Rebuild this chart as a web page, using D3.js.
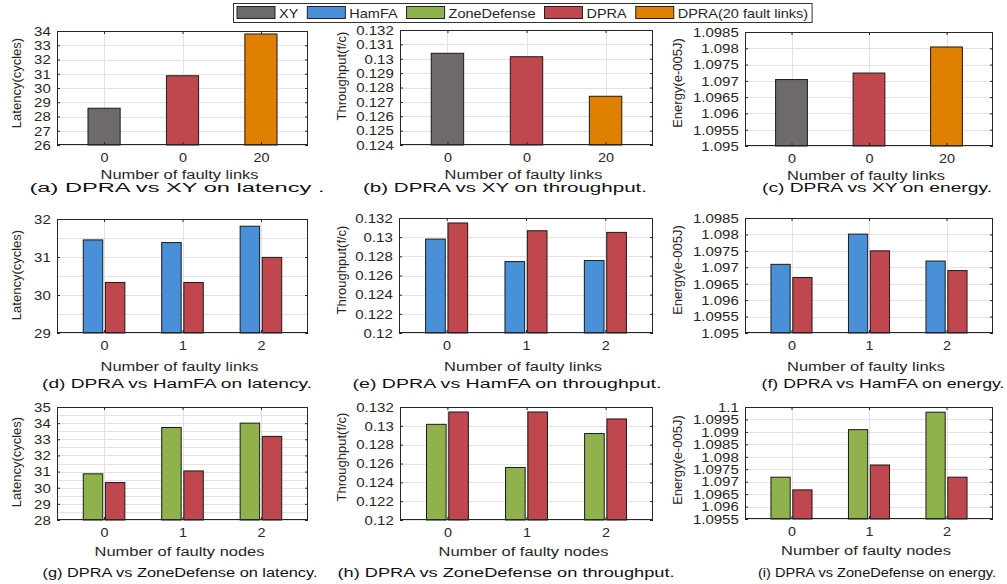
<!DOCTYPE html>
<html>
<head>
<meta charset="utf-8">
<script src="https://cdn.jsdelivr.net/npm/d3@7"></script>
<style>
body { margin: 0; background: #fff; }
text { font-family: "Liberation Sans", Arial, sans-serif; fill: #262626; }
</style>
</head>
<body>
<svg id="fig" width="1007" height="584"></svg>
<script>
// series shown in the legend
var seriesNames = ["XY", "HamFA", "ZoneDefense", "DPRA", "DPRA(20 fault links)"];

// x categories
var xyCats = ["0", "0", "20"];
var faultCats = ["0", "1", "2"];

// row 1: DPRA vs XY (one bar per category)
var xySeries = ["XY", "DPRA", "DPRA(20 fault links)"];
var latencyVsXY = [28.58, 30.86, 33.79];
var throughputVsXY = [0.13038, 0.13014, 0.12739];
var energyVsXY = [1.09704, 1.09724, 1.09804];

// row 2: DPRA vs HamFA
var hamfaLatency = [31.45, 31.38, 31.81];
var dpraLatencyH = [30.33, 30.33, 30.99];
var hamfaThroughput = [0.1298, 0.12745, 0.12756];
var dpraThroughputH = [0.13148, 0.13067, 0.1305];
var hamfaEnergy = [1.09709, 1.09801, 1.09719];
var dpraEnergyH = [1.09669, 1.0975, 1.0969];

// row 3: DPRA vs ZoneDefense
var zdLatency = [30.86, 33.73, 34.0];
var dpraLatencyZ = [30.32, 31.04, 33.18];
var zdThroughput = [0.13016, 0.12558, 0.12918];
var dpraThroughputZ = [0.13147, 0.13147, 0.13073];
var zdEnergy = [1.09718, 1.09909, 1.09979];
var dpraEnergyZ = [1.09667, 1.09767, 1.09718];

// y tick labels
var latTicksA = [26, 27, 28, 29, 30, 31, 32, 33, 34];
var thrTicksA = [0.124, 0.125, 0.126, 0.127, 0.128, 0.129, 0.13, 0.131, 0.132];
var engTicksA = [1.095, 1.0955, 1.096, 1.0965, 1.097, 1.0975, 1.098, 1.0985];
var latTicksD = [29, 30, 31, 32];
var latMinorD = [29.5, 30.5, 31.5];
var thrTicks = [0.12, 0.122, 0.124, 0.126, 0.128, 0.13, 0.132];
var latTicksG = [28, 29, 30, 31, 32, 33, 34, 35];
var latMinorG = [28.5, 29.5, 30.5, 31.5, 32.5, 33.5, 34.5];
var engTicksI = [1.0955, 1.096, 1.0965, 1.097, 1.0975, 1.098, 1.0985, 1.099, 1.0995, 1.1];

var colors = {
  "XY": "#6e6a6b",
  "HamFA": "#4a90d8",
  "ZoneDefense": "#8fb24c",
  "DPRA": "#c0474d",
  "DPRA(20 fault links)": "#e08000"
};

var svg = d3.select("#fig");

// panel layout
var panels = [
  {x0: 57, x1: 308, y0: 31, y1: 145, cats: xyCats, single: xySeries, values: [latencyVsXY],
   ticks: latTicksA, ylab: "Latency(cycles)", ylx: 16, yly: 83, xlab: "Number of faulty links", xlDy: 34,
   cap: "(a) DPRA vs XY on latency .", capX: 177, capW: 295, capDy: 47},
  {x0: 400, x1: 653, y0: 30, y1: 145, cats: xyCats, single: xySeries, values: [throughputVsXY],
   ticks: thrTicksA, ylab: "Throughput(f/c)", ylx: 341, yly: 76, xlab: "Number of faulty links", xlDy: 34,
   cap: "(b) DPRA vs XY on throughput.", capX: 505, capW: 284, capDy: 47},
  {x0: 745, x1: 993, y0: 32, y1: 146, cats: xyCats, single: xySeries, values: [energyVsXY],
   ticks: engTicksA, ylab: "Energy(e-005J)", ylx: 677, yly: 83, xlab: "Number of faulty links", xlDy: 34,
   cap: "(c) DPRA vs XY on energy.", capX: 877, capW: 230, capDy: 46},
  {x0: 57, x1: 308, y0: 219, y1: 333, cats: faultCats, series: ["HamFA", "DPRA"],
   values: [hamfaLatency, dpraLatencyH], ticks: latTicksD, minor: latMinorD,
   ylab: "Latency(cycles)", ylx: 16, yly: 275, xlab: "Number of faulty links", xlDy: 38,
   cap: "(d) DPRA vs HamFA on latency.", capX: 177, capW: 270, capDy: 55},
  {x0: 399, x1: 653, y0: 218, y1: 333, cats: faultCats, series: ["HamFA", "DPRA"],
   values: [hamfaThroughput, dpraThroughputH], ticks: thrTicks,
   ylab: "Throughput(f/c)", ylx: 341, yly: 270, xlab: "Number of faulty links", xlDy: 38,
   cap: "(e) DPRA vs HamFA on throughput.", capX: 507, capW: 309, capDy: 55},
  {x0: 745, x1: 993, y0: 218, y1: 333, cats: faultCats, series: ["HamFA", "DPRA"],
   values: [hamfaEnergy, dpraEnergyH], ticks: engTicksA,
   ylab: "Energy(e-005J)", ylx: 677, yly: 270, xlab: "Number of faulty links", xlDy: 38,
   cap: "(f) DPRA vs HamFA on energy.", capX: 883, capW: 243, capDy: 55},
  {x0: 57, x1: 308, y0: 407, y1: 520, cats: faultCats, series: ["ZoneDefense", "DPRA"],
   values: [zdLatency, dpraLatencyZ], ticks: latTicksG, minor: latMinorG,
   ylab: "Latency(cycles)", ylx: 16, yly: 462, xlab: "Number of faulty nodes", xlDy: 36,
   cap: "(g) DPRA vs ZoneDefense on latency.", capX: 180, capW: 275, capDy: 57},
  {x0: 400, x1: 653, y0: 407, y1: 520, cats: faultCats, series: ["ZoneDefense", "DPRA"],
   values: [zdThroughput, dpraThroughputZ], ticks: thrTicks,
   ylab: "Throughput(f/c)", ylx: 341, yly: 457, xlab: "Number of faulty nodes", xlDy: 36,
   cap: "(h) DPRA vs ZoneDefense on throughput.", capX: 506, capW: 337, capDy: 57},
  {x0: 745, x1: 993, y0: 407, y1: 519, cats: faultCats, series: ["ZoneDefense", "DPRA"],
   values: [zdEnergy, dpraEnergyZ], ticks: engTicksI,
   ylab: "Energy(e-005J)", ylx: 677, yly: 460, xlab: "Number of faulty nodes", xlDy: 36,
   cap: "(i) DPRA vs ZoneDefense on energy.", capX: 877, capW: 238, capDy: 58}
];

function addText(parent, x, y, str, size, sx, anchor) {
  return parent.append("text")
    .attr("transform", "translate(" + x + "," + y + ") scale(" + sx + ",1)")
    .attr("text-anchor", anchor)
    .style("font-size", size + "px")
    .text(str);
}

function drawPanel(p) {
  var g = svg.append("g");
  var w = p.x1 - p.x0;

  var x = d3.scalePoint()
    .domain(d3.range(p.cats.length))
    .range([p.x0, p.x1])
    .padding(0.6);
  var y = d3.scaleLinear()
    .domain([p.ticks[0], p.ticks[p.ticks.length - 1]])
    .range([p.y1, p.y0]);
  var step = x.step();

  g.append("rect")
    .attr("x", p.x0).attr("y", p.y0)
    .attr("width", w).attr("height", p.y1 - p.y0)
    .attr("fill", "#fff");

  // grid lines
  g.append("g").selectAll("line")
    .data(p.ticks.concat(p.minor || []))
    .enter().append("line")
      .attr("x1", p.x0).attr("x2", p.x1)
      .attr("y1", function(d) { return Math.round(y(d)) + 0.5; })
      .attr("y2", function(d) { return Math.round(y(d)) + 0.5; })
      .attr("stroke", "#e3e3e3");
  g.append("g").selectAll("line")
    .data(x.domain())
    .enter().append("line")
      .attr("x1", function(d) { return Math.round(x(d)) + 0.5; })
      .attr("x2", function(d) { return Math.round(x(d)) + 0.5; })
      .attr("y1", p.y0).attr("y2", p.y1)
      .attr("stroke", "#e3e3e3");

  // bars
  var rows = [];
  if (p.single) {
    p.values[0].forEach(function(v, i) {
      rows.push({cat: i, off: -step * 0.205, bw: step * 0.41, v: v, name: p.single[i]});
    });
  } else {
    var inner = d3.scaleBand()
      .domain(d3.range(p.series.length))
      .range([-step * 0.265, step * 0.265])
      .paddingInner(0.12);
    p.values.forEach(function(vals, s) {
      vals.forEach(function(v, i) {
        rows.push({cat: i, off: inner(s), bw: inner.bandwidth(), v: v, name: p.series[s]});
      });
    });
  }
  g.append("g").selectAll("rect")
    .data(rows)
    .enter().append("rect")
      .attr("x", function(d) { return x(d.cat) + d.off; })
      .attr("y", function(d) { return y(d.v); })
      .attr("width", function(d) { return d.bw; })
      .attr("height", function(d) { return p.y1 - y(d.v); })
      .attr("fill", function(d) { return colors[d.name]; })
      .attr("stroke", "#1a1a1a")
      .attr("stroke-width", 1);

  // axes, ticks pointing inward
  var fmt = function(d) { return String(+d.toFixed(6)); };
  var left = g.append("g").attr("transform", "translate(" + p.x0 + ",0)")
    .call(d3.axisLeft(y).tickValues(p.ticks).tickSize(-3).tickPadding(5).tickFormat(fmt));
  left.selectAll("text").attr("transform", "scale(1.25,1)").style("font-size", "12px").attr("dy", "0.36em");
  g.append("g").attr("transform", "translate(" + p.x1 + ",0)")
    .call(d3.axisRight(y).tickValues(p.ticks).tickSize(-3).tickFormat(""));
  var bottom = g.append("g").attr("transform", "translate(0," + p.y1 + ")")
    .call(d3.axisBottom(x).tickSize(-3).tickPadding(8).tickFormat(function(i) { return p.cats[i]; }));
  bottom.selectAll("text").attr("transform", "scale(1.2,1)").style("font-size", "12px");
  g.append("g").attr("transform", "translate(0," + p.y0 + ")")
    .call(d3.axisTop(x).tickSize(-3).tickFormat(""));
  g.selectAll(".domain").remove();
  g.selectAll(".tick line").attr("stroke", "#262626");
  g.selectAll(".tick text").attr("fill", "#262626").style("font-family", "'Liberation Sans', Arial, sans-serif");

  g.append("rect")
    .attr("x", p.x0 + 0.5).attr("y", p.y0 + 0.5)
    .attr("width", w - 1).attr("height", p.y1 - p.y0 - 1)
    .attr("fill", "none")
    .attr("stroke", "#262626");

  // labels
  g.append("text")
    .attr("transform", "translate(" + p.ylx + "," + p.yly + ") rotate(-90)")
    .attr("text-anchor", "middle")
    .attr("dy", "0.35em")
    .style("font-size", "13px")
    .text(p.ylab);
  addText(g, (p.x0 + p.x1) / 2 - 3, p.y1 + p.xlDy, p.xlab, 12, 1.37, "middle");
  g.append("text")
    .attr("x", p.capX).attr("y", p.y1 + p.capDy)
    .attr("text-anchor", "middle")
    .attr("textLength", p.capW)
    .attr("lengthAdjust", "spacingAndGlyphs")
    .style("font-size", "12px")
    .style("fill", "#111")
    .text(p.cap);
}

panels.forEach(drawPanel);

// legend
function makeLegend() {
  var lg = svg.append("g");
  var box = lg.append("rect")
    .attr("x", 233.5).attr("y", 3.5).attr("height", 19)
    .attr("fill", "#fff").attr("stroke", "#333");
  var cx = 237;
  seriesNames.forEach(function(name) {
    lg.append("rect")
      .attr("x", cx).attr("y", 6.5).attr("width", 38).attr("height", 12)
      .attr("fill", colors[name]).attr("stroke", "#222");
    var t = addText(lg, cx + 42, 17.5, name, 12.5, 1.16, "start");
    cx += 42 + t.node().getComputedTextLength() * 1.16 + 9;
  });
  box.attr("width", cx - 233.5 - 5);
}
makeLegend();
</script>
</body>
</html>
